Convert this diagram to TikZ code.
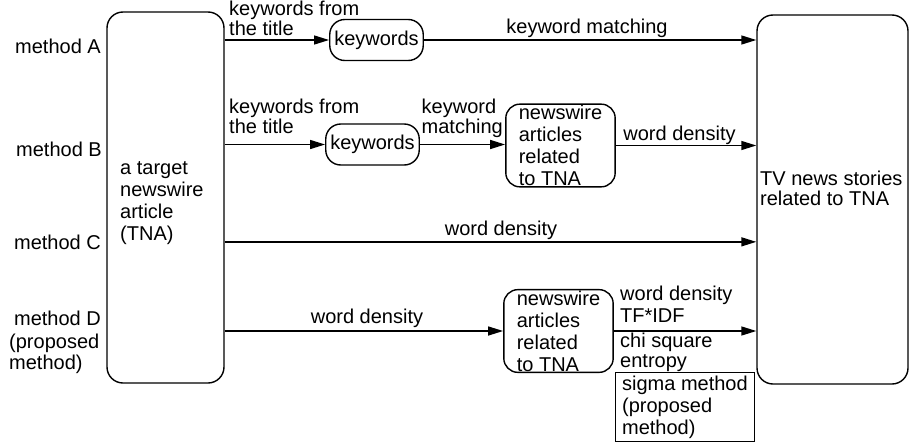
\documentclass[tikz,border=0pt]{standalone}
\usepackage{fontspec}
\setmainfont{Liberation Sans}
\usetikzlibrary{arrows.meta}
\begin{document}
\begin{tikzpicture}[x=1pt,y=-1pt,
  every node/.style={font=\fontsize{20}{22}\selectfont, inner sep=0pt},
  lbl/.style={align=left},
  lbltight/.style={align=left, font=\fontsize{20}{20.5}\selectfont},
  bigbox/.style={draw, line width=1.4pt, rounded corners=16pt},
  pill/.style={draw, line width=1.4pt, rounded corners=15pt, minimum height=41pt, inner xsep=4.5pt},
  newsbox/.style={draw, line width=1.4pt, rounded corners=14pt, align=left, inner xsep=13pt, inner ysep=1pt},
  arr/.style={line width=1.4pt, -{Triangle[length=15pt,width=9pt]}}
]
\useasboundingbox (0,0) rectangle (910,447);

% big boxes
\node[bigbox, minimum width=117pt, minimum height=371pt] (tna) at (165.5,197.5) {};
\node[bigbox, minimum width=151pt, minimum height=369pt] (tv) at (832.5,199.5) {};
\node[lbl, anchor=north west] (tnatext) at (120,161.5) {a target\\newswire\\article\\(TNA)};
\node[lbltight, anchor=north west] (tvtext) at (760,170.5) {TV news stories\\related to TNA};

% method labels
\node[anchor=base east] (mA) at (101,53) {method A};
\node[anchor=base east] (mB) at (102,156) {method B};
\node[anchor=base east] (mC) at (101,249) {method C};
\node[anchor=base east] (mD) at (101,325) {method D};
\node[align=left, font=\fontsize{20}{21}\selectfont, anchor=north west] (mDp) at (9,333.5) {(proposed\\method)};

% intermediate nodes
\node[pill] (kwA) at (376.5,40) {keywords};
\node[pill] (kwB) at (372.5,144.5) {keywords};
\node[newsbox] (nwB) at (560.5,145.5) {newswire\\articles\\related\\to TNA};
\node[newsbox] (nwD) at (558.5,331) {newswire\\articles\\related\\to TNA};

% connectors
\draw[arr] (tna.east |- kwA.west) -- (kwA.west);
\draw[arr] (kwA.east) -- (tv.west |- kwA.east);
\draw[arr] (tna.east |- kwB.west) -- (kwB.west);
\draw[arr] (kwB.east) -- (nwB.west |- kwB.east);
\draw[arr] (nwB.east) -- (tv.west |- nwB.east);
\draw[arr] (tna.east |- mC) -- (tv.west |- mC);
\draw[arr] (tna.east |- nwD.west) -- (nwD.west);
\draw[arr] (nwD.east) -- (tv.west |- nwD.east);

% connector labels
\node[lbltight, anchor=north west] (lA) at (229,0.5) {keywords from\\the title};
\node[anchor=base] (lA2) at (587,33) {keyword matching};
\node[lbltight, anchor=north west] (lB) at (229,98.8) {keywords from\\the title};
\node[lbltight, anchor=north west] (lB2) at (421.5,98.8) {keyword\\matching};
\node[anchor=base] (lB3) at (679.5,140) {word density};
\node[anchor=base] (lC) at (501,235) {word density};
\node[anchor=base] (lD) at (367,323) {word density};
\node[lbl, anchor=north west] (lD2) at (620,285.5) {word density\\TF*IDF};
\node[lbltight, anchor=north west] (lD3) at (620,332.5) {chi square\\entropy};
\node[draw, line width=0.9pt, lbl, anchor=north west, minimum width=139pt, minimum height=69pt] (sig) at (615,372) {sigma method\\(proposed\\method)};
\end{tikzpicture}
\end{document}
